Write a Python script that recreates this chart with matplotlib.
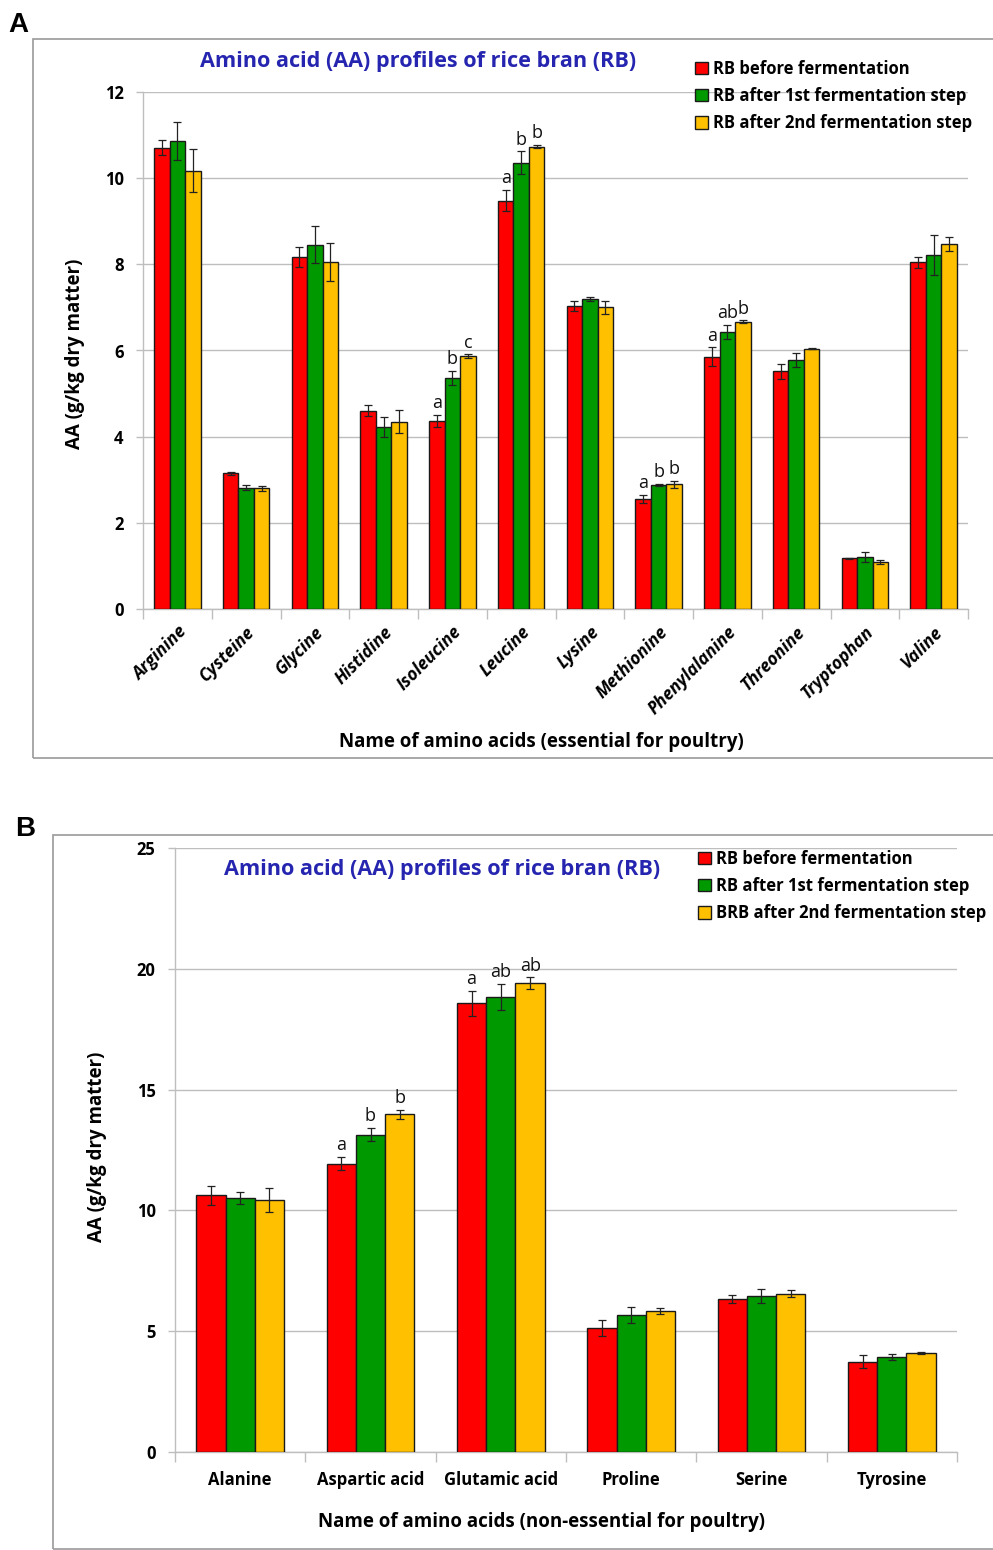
import matplotlib
matplotlib.use("Agg")
import matplotlib.pyplot as plt
import numpy as np
from matplotlib.patches import Rectangle

plt.rcParams['font.family'] = ['Open Sans', 'DejaVu Sans']

# ---------------- Data ----------------
ess_names = ["Arginine", "Cysteine", "Glycine", "Histidine", "Isoleucine", "Leucine",
             "Lysine", "Methionine", "Phenylalanine", "Threonine", "Tryptophan", "Valine"]
ess_before = [10.71, 3.15, 8.17, 4.60, 4.36, 9.48, 7.03, 2.55, 5.85, 5.52, 1.18, 8.05]
ess_step1 = [10.86, 2.82, 8.46, 4.22, 5.37, 10.36, 7.20, 2.88, 6.43, 5.78, 1.21, 8.22]
ess_step2 = [10.17, 2.80, 8.05, 4.35, 5.87, 10.73, 7.00, 2.89, 6.67, 6.04, 1.09, 8.48]
ess_before_err = [0.17, 0.04, 0.23, 0.13, 0.14, 0.24, 0.12, 0.09, 0.22, 0.17, 0.01, 0.13]
ess_step1_err = [0.44, 0.06, 0.44, 0.23, 0.16, 0.26, 0.05, 0.03, 0.17, 0.16, 0.12, 0.47]
ess_step2_err = [0.50, 0.05, 0.44, 0.27, 0.04, 0.04, 0.16, 0.08, 0.03, 0.01, 0.04, 0.16]
ess_letters_before = ["", "", "", "", "a", "a", "", "a", "a", "", "", ""]
ess_letters_step1 = ["", "", "", "", "b", "b", "", "b", "ab", "", "", ""]
ess_letters_step2 = ["", "", "", "", "c", "b", "", "b", "b", "", "", ""]

non_names = ["Alanine", "Aspartic acid", "Glutamic acid", "Proline", "Serine", "Tyrosine"]
non_before = [10.62, 11.94, 18.57, 5.15, 6.33, 3.74]
non_step1 = [10.51, 13.14, 18.83, 5.68, 6.47, 3.92]
non_step2 = [10.43, 13.98, 19.41, 5.84, 6.56, 4.09]
non_before_err = [0.39, 0.28, 0.53, 0.33, 0.18, 0.26]
non_step1_err = [0.25, 0.28, 0.54, 0.34, 0.29, 0.12]
non_step2_err = [0.50, 0.18, 0.23, 0.13, 0.16, 0.04]
non_letters_before = ["", "a", "a", "", "", ""]
non_letters_step1 = ["", "b", "ab", "", "", ""]
non_letters_step2 = ["", "b", "ab", "", "", ""]

legend_A = ["RB before fermentation", "RB after 1st fermentation step", "RB after 2nd fermentation step"]
legend_B = ["RB before fermentation", "RB after 1st fermentation step", "BRB after 2nd fermentation step"]
title_text = "Amino acid (AA) profiles of rice bran (RB)"

# ---------------- Style ----------------
colors = ["#FF0000", "#009900", "#FFC000"]
W, H = 993, 1550
fig = plt.figure(figsize=(W / 100, H / 100), dpi=100)

def fx(px):
    return px / W

def fy(py):
    return 1 - py / H

grid_c = "#BEBEBE"
title_c = "#2525B0"


def draw_panel(ax, names, vals, errs, letters, ymax, ystep, legend_labels, rot):
    n = len(names)
    x = np.arange(n)
    bw = 0.225
    offs = [-bw, 0, bw]
    for i in range(3):
        ax.bar(x + offs[i], vals[i], width=bw, color=colors[i], edgecolor="#1a1a1a",
               linewidth=1.0, label=legend_labels[i], zorder=3)
        ax.errorbar(x + offs[i], vals[i], yerr=errs[i], fmt="none", ecolor="#222222",
                    elinewidth=0.9, capsize=3, capthick=0.9, zorder=4)
        for j in range(n):
            if letters[i][j]:
                ax.annotate(letters[i][j], (x[j] + offs[i], vals[i][j] + errs[i][j]),
                            xytext=(0, 2), textcoords="offset points", ha="center",
                            va="bottom", fontsize=13, color="#111111", zorder=5)
    ax.set_xlim(-0.5, n - 0.5)
    ax.set_ylim(0, ymax)
    ax.set_yticks(np.arange(0, ymax + 0.01, ystep))
    ax.yaxis.grid(True, color=grid_c, linewidth=1.0, zorder=0)
    ax.set_axisbelow(True)
    for s in ["top", "right"]:
        ax.spines[s].set_visible(False)
    for s in ["left", "bottom"]:
        ax.spines[s].set_color(grid_c)
        ax.spines[s].set_linewidth(1.0)
    ax.tick_params(axis="y", colors=grid_c, length=5, width=1.0, labelcolor="black",
                   labelsize=12, pad=9)
    for t in ax.get_yticklabels():
        t.set_fontweight("bold")
    # category boundary ticks
    ax.set_xticks(np.arange(-0.5, n, 1.0), minor=False)
    ax.set_xticklabels([""] * (n + 1))
    ax.tick_params(axis="x", which="major", colors=grid_c, length=7, width=1.0,
                   direction="out")
    ax.set_xticks(x, minor=True)
    ax.tick_params(axis="x", which="minor", length=0, labelcolor="black", pad=14)
    if rot:
        ax.set_xticklabels(names, minor=True, rotation=45, ha="right",
                           rotation_mode="anchor", fontsize=12.5, fontweight="bold",
                           style="italic")
    else:
        ax.set_xticklabels(names, minor=True, fontsize=12, fontweight="bold")


# ---------------- Panel A ----------------
axA = fig.add_axes([fx(143), fy(609), fx(968) - fx(143), fy(92) - fy(609)])
draw_panel(axA, ess_names, [ess_before, ess_step1, ess_step2],
           [ess_before_err, ess_step1_err, ess_step2_err],
           [ess_letters_before, ess_letters_step1, ess_letters_step2],
           12, 2, legend_A, True)
axA.tick_params(axis="x", which="minor", pad=10)

# ---------------- Panel B ----------------
axB = fig.add_axes([fx(175), fy(1452), fx(957) - fx(175), fy(848) - fy(1452)])
draw_panel(axB, non_names, [non_before, non_step1, non_step2],
           [non_before_err, non_step1_err, non_step2_err],
           [non_letters_before, non_letters_step1, non_letters_step2],
           25, 5, legend_B, False)

# ---------------- Frames ----------------
fig.patches.append(Rectangle((fx(33), fy(758)), fx(1100) - fx(33), fy(39) - fy(758),
                             transform=fig.transFigure, fill=False, edgecolor="#9A9A9A",
                             linewidth=1.2, clip_on=False))
fig.patches.append(Rectangle((fx(53), fy(1549)), fx(1100) - fx(53), fy(835) - fy(1549),
                             transform=fig.transFigure, fill=False, edgecolor="#9A9A9A",
                             linewidth=1.2, clip_on=False))

# ---------------- Texts ----------------
fig.text(fx(8), fy(25), "A", fontsize=20, fontweight="bold", family="Liberation Sans",
         ha="left", va="center")
fig.text(fx(15), fy(829), "B", fontsize=20, fontweight="bold", family="Liberation Sans",
         ha="left", va="center")

fig.text(fx(418), fy(61), title_text, fontsize=15.6, fontweight="bold", color=title_c,
         ha="center", va="center")
fig.text(fx(442), fy(870), title_text, fontsize=15.6, fontweight="bold", color=title_c,
         ha="center", va="center")

fig.text(fx(75), fy(354), "AA (g/kg dry matter)", rotation=90, fontsize=13.5,
         fontweight="bold", ha="center", va="center")
fig.text(fx(97), fy(1147), "AA (g/kg dry matter)", rotation=90, fontsize=13.5,
         fontweight="bold", ha="center", va="center")

fig.text(fx(541), fy(742), "Name of amino acids (essential for poultry)", fontsize=13.5,
         fontweight="bold", ha="center", va="center")
fig.text(fx(541), fy(1522), "Name of amino acids (non-essential for poultry)", fontsize=13.5,
         fontweight="bold", ha="center", va="center")

# legends
legA = axA.legend(loc="upper left", bbox_to_anchor=(fx(695), fy(60)),
                  bbox_transform=fig.transFigure, frameon=False, fontsize=12,
                  handlelength=0.75, handleheight=0.75, handletextpad=0.35,
                  labelspacing=0.55, borderpad=0, borderaxespad=0)
for t in legA.get_texts():
    t.set_fontweight("bold")
legB = axB.legend(loc="upper left", bbox_to_anchor=(fx(698), fy(850)),
                  bbox_transform=fig.transFigure, frameon=False, fontsize=12,
                  handlelength=0.75, handleheight=0.75, handletextpad=0.35,
                  labelspacing=0.55, borderpad=0, borderaxespad=0)
for t in legB.get_texts():
    t.set_fontweight("bold")

fig.savefig("out.png", dpi=100)
